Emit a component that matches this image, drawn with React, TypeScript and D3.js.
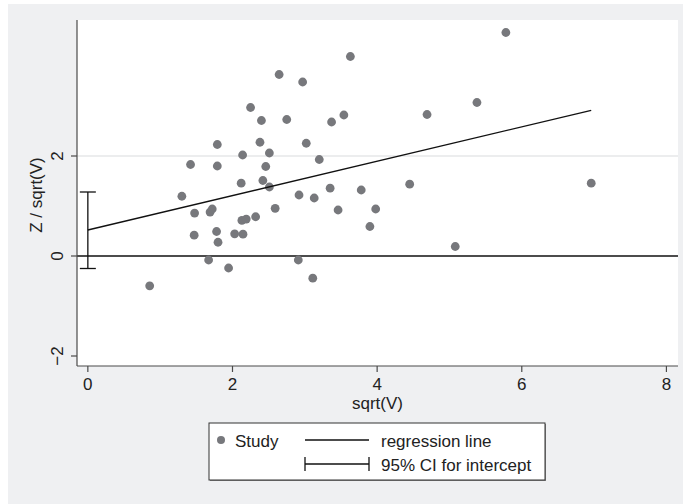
import React from "react";
import * as d3 from "d3";

// sqrt(V) and Z / sqrt(V) for each study
const studyX = [
  0.855, 1.3, 1.42, 1.476, 1.47, 1.67, 1.69, 1.72, 1.78, 1.79, 1.79, 1.8, 1.946, 2.03, 2.12, 2.14, 2.13,
  2.145, 2.19, 2.25, 2.32, 2.38, 2.4, 2.42, 2.46, 2.51, 2.51, 2.59, 2.645, 2.75, 2.92, 2.91, 2.97, 3.02,
  3.11, 3.13, 3.2, 3.35, 3.37, 3.46, 3.54, 3.63, 3.78, 3.9, 3.98, 4.45, 4.69, 5.08, 5.38, 5.78, 6.96,
];
const studyY = [
  -0.597, 1.195, 1.83, 0.859, 0.416, -0.08, 0.879, 0.94, 0.49, 2.23, 1.8, 0.275, -0.24, 0.443, 1.456,
  2.02, 0.711, 0.436, 0.738, 2.97, 0.785, 2.275, 2.71, 1.51, 1.79, 2.06, 1.38, 0.953, 3.63, 2.73, 1.22,
  -0.08, 3.48, 2.255, -0.443, 1.16, 1.93, 1.356, 2.68, 0.92, 2.82, 3.99, 1.32, 0.59, 0.94, 1.436, 2.83,
  0.19, 3.07, 4.47, 1.456,
];

const intercept = 0.52;
const slope = 0.344;
const lineEndX = 6.96;
const ciLow = -0.25;
const ciHigh = 1.28;

const xTicks = [0, 2, 4, 6, 8];
const yTicks = [-2, 0, 2];
const gridTicks = [2];

const font = "'Liberation Sans', Arial, Helvetica, sans-serif";
const dotColor = "#77787c";
const axisColor = "#4a4a4a";

export default function App() {
  const W = 683;
  const H = 504;
  const left = 77,
    right = 678,
    top = 20,
    bottom = 366;

  const x = d3.scaleLinear().domain([-0.15, 8.16]).range([left, right]);
  const y = d3.scaleLinear().domain([-2.2, 4.72]).range([bottom, top]);

  const points = studyX.map((v, i) => ({ x: v, y: studyY[i] }));
  const regLine = d3.line<number>()
    .x((d) => x(d))
    .y((d) => y(intercept + slope * d));

  const fmt = (t: number) => (t < 0 ? "\u2212" + Math.abs(t) : String(t));

  return (
    <svg
      width={W}
      height={H}
      style={{ position: "absolute", left: 0, top: 0, display: "block" }}
      fontFamily={font}
    >
      <rect x={0} y={0} width={W} height={H} fill="#ffffff" />
      <rect x={8} y={4} width={W - 8} height={H - 4} fill="#eff0f2" />
      <rect x={left} y={top} width={right - left} height={bottom - top} fill="#ffffff" />

      {gridTicks.map((t) => (
        <line key={t} x1={left} x2={right} y1={y(t)} y2={y(t)} stroke="#e6e7e9" strokeWidth={1.5} />
      ))}

      {/* zero reference line */}
      <line x1={left} x2={right} y1={y(0)} y2={y(0)} stroke="#111" strokeWidth={1.6} />

      {points.map((p, i) => (
        <circle key={i} cx={x(p.x)} cy={y(p.y)} r={4.4} fill={dotColor} />
      ))}

      <path d={regLine([0, lineEndX]) || ""} fill="none" stroke="#111" strokeWidth={1.3} />

      {/* 95% CI for intercept */}
      <g stroke="#111" strokeWidth={1.3}>
        <line x1={x(0)} x2={x(0)} y1={y(ciLow)} y2={y(ciHigh)} />
        <line x1={x(0) - 8} x2={x(0) + 8} y1={y(ciLow)} y2={y(ciLow)} />
        <line x1={x(0) - 8} x2={x(0) + 8} y1={y(ciHigh)} y2={y(ciHigh)} />
      </g>

      {/* axes */}
      <line x1={left} x2={left} y1={top} y2={bottom} stroke={axisColor} strokeWidth={1.2} />
      <line x1={left} x2={right} y1={bottom} y2={bottom} stroke={axisColor} strokeWidth={1.2} />

      {yTicks.map((t) => (
        <g key={t}>
          <line x1={left - 6} x2={left} y1={y(t)} y2={y(t)} stroke={axisColor} strokeWidth={1.2} />
          <text
            transform={`translate(${left - 14},${y(t)}) rotate(-90)`}
            textAnchor="middle"
            fontSize={17}
            fill="#222"
          >
            {fmt(t)}
          </text>
        </g>
      ))}

      {xTicks.map((t) => (
        <g key={t}>
          <line x1={x(t)} x2={x(t)} y1={bottom} y2={bottom + 6} stroke={axisColor} strokeWidth={1.2} />
          <text x={x(t)} y={bottom + 24} textAnchor="middle" fontSize={17} fill="#222">
            {fmt(t)}
          </text>
        </g>
      ))}

      <text x={(left + right) / 2} y={409} textAnchor="middle" fontSize={17} fill="#222">
        sqrt(V)
      </text>
      <text
        transform={`translate(${42},${195}) rotate(-90)`}
        textAnchor="middle"
        fontSize={17}
        fill="#222"
      >
        Z / sqrt(V)
      </text>

      {/* legend */}
      <rect x={210} y={424} width={336} height={57} fill="#8a8a8a" />
      <rect x={209} y={423} width={336} height={57} fill="#ffffff" stroke="#333" strokeWidth={1} />
      <circle cx={221} cy={440} r={4} fill={dotColor} />
      <text x={235} y={447} fontSize={17} fill="#222">
        Study
      </text>
      <line x1={305} x2={369} y1={440} y2={440} stroke="#111" strokeWidth={1.3} />
      <text x={381} y={447} fontSize={17} fill="#222">
        regression line
      </text>
      <g stroke="#111" strokeWidth={1.3}>
        <line x1={305} x2={369} y1={464} y2={464} />
        <line x1={305} x2={305} y1={457} y2={471} />
        <line x1={369} x2={369} y1={457} y2={471} />
      </g>
      <text x={381} y={471} fontSize={17} fill="#222">
        95% CI for intercept
      </text>
    </svg>
  );
}
